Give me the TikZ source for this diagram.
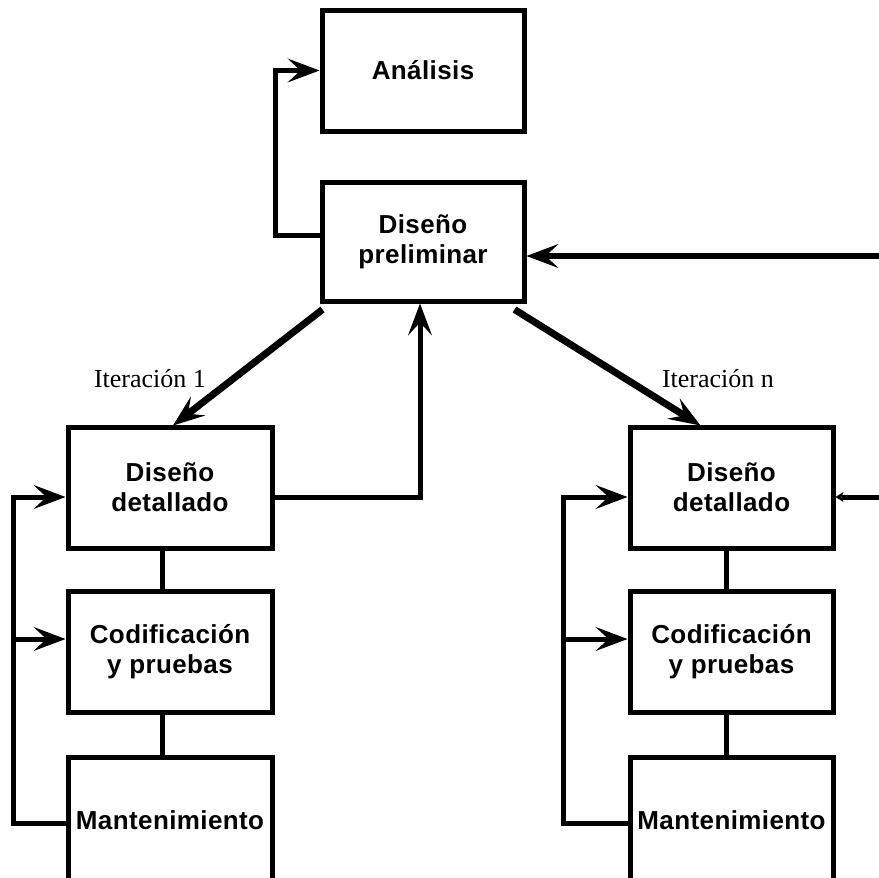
\documentclass[tikz,border=0pt]{standalone}
\usepackage{fontspec}
\setmainfont{Liberation Sans}
\newfontfamily\lblfont{Liberation Serif}
\usetikzlibrary{arrows.meta}
\tikzset{
  box/.style={draw, line width=5pt, minimum width=204pt, minimum height=121pt,
    inner sep=0pt, align=center, font=\addfontfeature{LetterSpace=1.5}\fontsize{26}{30}\selectfont\bfseries},
  conn/.style={line width=5pt, line join=miter},
  arr/.style={-{Stealth[length=32pt,width=24pt,inset=13pt,line width=1pt]}},
  arrsmall/.style={-{Stealth[length=8pt,width=10pt,inset=2pt,line width=0pt]}},
  lbl/.style={font=\lblfont\fontsize{26}{30}\selectfont, inner sep=0pt, anchor=base}
}
\begin{document}
\begin{tikzpicture}[x=1pt,y=-1pt]
\useasboundingbox (0,0) rectangle (879,878);
\clip (0,0) rectangle (879,878);
\fill[white] (0,0) rectangle (879,878);

% boxes
\node[box, minimum width=202pt] (ana) at (423,70.5) {Análisis};
\node[box, minimum width=202pt, minimum height=119pt] (dp) at (423,241.5) {Diseño\\preliminar};

\node[box] (ldd) at (170,487.5) {Diseño\\detallado};
\node[box] (lcp) at (170,651.5) {Codificación\\y pruebas};
\node[box, minimum height=126pt] (lmt) at (170,820) {Mantenimiento};

\node[box, minimum width=203pt] (rdd) at (731.5,487.5) {Diseño\\detallado};
\node[box, minimum width=203pt] (rcp) at (731.5,651.5) {Codificación\\y pruebas};
\node[box, minimum width=203pt, minimum height=126pt] (rmt) at (731.5,820) {Mantenimiento};

% labels
\node[lbl] (it1) at (150,387) {Iteración 1};
\node[lbl] (itn) at (718,387) {Iteración n};

% coordinates for free ends
\coordinate (rin) at (890,256);
\coordinate (rin2) at (890,497);

% top feedback to Analisis
\draw[conn,arr] ([yshift=6pt]dp.west) -- ++(-44,0) |- (ana.west);

% long arrow from right into Diseno preliminar
\draw[line width=6pt,arr] (rin) -- ([yshift=-14.5pt]dp.east);

% diagonals
\draw[line width=7pt,arr] ([xshift=3pt,yshift=-6pt]dp.south west) -- ([xshift=3pt,yshift=-1pt]ldd.north);
\draw[line width=7pt,arr] ([xshift=-12pt,yshift=-6pt]dp.south east) -- ([xshift=-31pt,yshift=-1pt]rdd.north);

% detailed design back to preliminary
\draw[conn,arr] ([yshift=-9.5pt]ldd.east) -| ([xshift=-3pt]dp.south);

% vertical links
\draw[conn] ([xshift=-8pt]ldd.south) -- ([xshift=-8pt]lcp.north);
\draw[conn] ([xshift=-8pt]lcp.south) -- ([xshift=-8pt]lmt.north);
\draw[conn] ([xshift=-5.5pt]rdd.south) -- ([xshift=-5.5pt]rcp.north);
\draw[conn] ([xshift=-5.5pt]rcp.south) -- ([xshift=-5.5pt]rmt.north);

% left maintenance loop
\draw[conn,arr] ([yshift=-3pt]lmt.west) -| (13,497) -- ([yshift=-9.5pt]ldd.west);
\draw[conn,arr] (13,639) -- ([yshift=12.5pt]lcp.west);

% right maintenance loop
\draw[conn,arr] ([yshift=-3pt]rmt.west) -| (563,497) -- ([yshift=-9.5pt]rdd.west);
\draw[conn,arr] (563,639) -- ([yshift=12.5pt]rcp.west);

% line entering right detailed design from the right
\draw[conn,arrsmall] (rin2) -- ([yshift=-9.5pt]rdd.east);
\end{tikzpicture}
\end{document}
